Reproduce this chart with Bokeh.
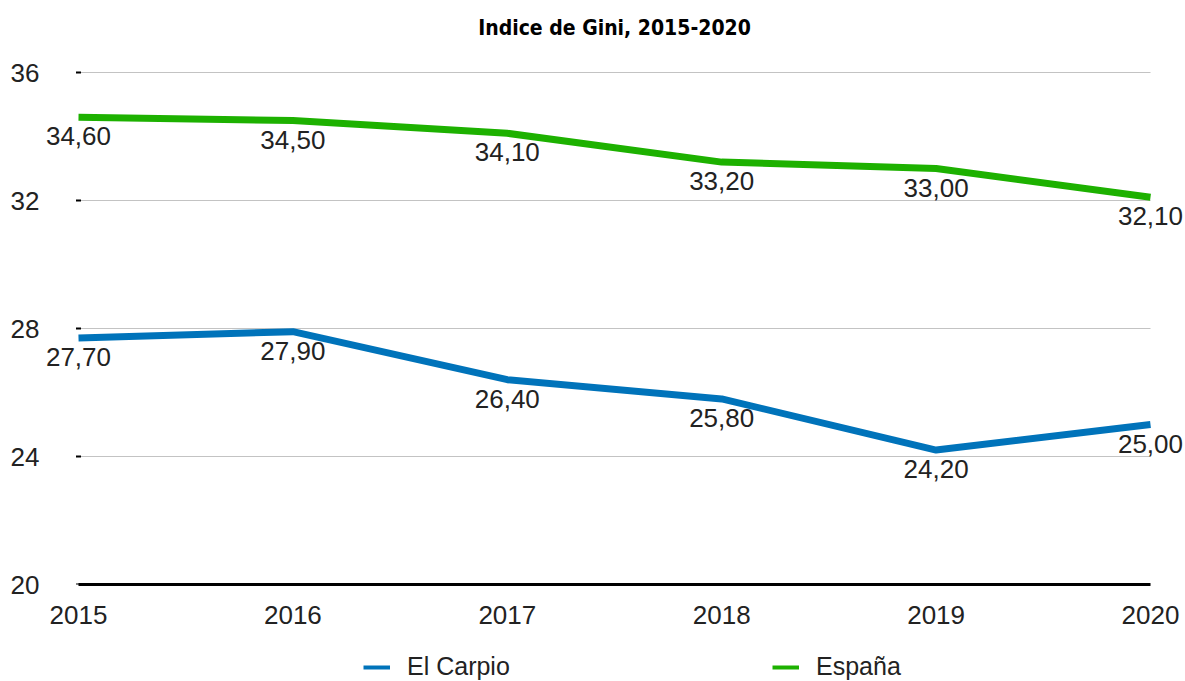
from bokeh.plotting import figure
from bokeh.layouts import column
from bokeh.models import (Range1d, FixedTicker, ColumnDataSource, LabelSet, Label,
                          Legend, LegendItem)
from bokeh.core.properties import value
from bokeh.embed import file_html
from bokeh.resources import INLINE

years = [2015, 2016, 2017, 2018, 2019, 2020]
el_carpio = [27.7, 27.9, 26.4, 25.8, 24.2, 25.0]
espana = [34.6, 34.5, 34.1, 33.2, 33.0, 32.1]
y_ticks = [20, 24, 28, 32, 36]
title_text = "Indice de Gini, 2015-2020"
series_names = ["El Carpio", "España"]

BLUE = "#0073BA"
GREEN = "#1DB100"
TXT = "#222222"
FONT = "Liberation Sans"
BOLD_FONT = "'Liberation Sans Narrow', 'DejaVu Sans Condensed', sans-serif"

# layout (pixels)
W, H = 1185, 681
LEG_H = 40
MAIN_H = H - LEG_H
frame_left, frame_right, frame_top, frame_bottom = 42, 1185, 0, 584
px_first, px_last = 78, 1150          # where the first / last year sit
py_top_tick, py_bottom_tick = 72, 584 # where the highest / lowest y tick sit
ppx = (px_last - px_first) / (years[-1] - years[0])
ppy = (py_bottom_tick - py_top_tick) / (y_ticks[-1] - y_ticks[0])
x_start = years[0] - (px_first - frame_left) / ppx
x_end = years[-1] + (frame_right - px_last) / ppx
y_start = y_ticks[0] - (frame_bottom - py_bottom_tick) / ppy
y_end = y_ticks[-1] + (py_top_tick - frame_top) / ppy

p = figure(width=W, height=MAIN_H, output_backend="svg", toolbar_location=None,
           title=None,
           x_range=Range1d(x_start, x_end), y_range=Range1d(y_start, y_end),
           min_border_left=frame_left, min_border_right=W - frame_right,
           min_border_top=frame_top, min_border_bottom=MAIN_H - frame_bottom)
p.outline_line_color = None
p.background_fill_color = "white"
p.border_fill_color = "white"

# title (inside the frame, in screen units)
p.add_layout(Label(x=614 - frame_left, y=frame_bottom - 27, x_units="screen",
                   y_units="screen", text=title_text, text_align="center",
                   text_baseline="alphabetic", text_font=BOLD_FONT,
                   text_font_style="bold", text_font_size="21px", text_color="black"))

# grid drawn only across the data span
p.xgrid.grid_line_color = None
p.ygrid.grid_line_color = None
p.segment(x0=[years[0]] * len(y_ticks), x1=[years[-1]] * len(y_ticks),
          y0=y_ticks, y1=y_ticks, line_color="#c3c3c3", line_width=1)
# small tick dashes at the first year
p.scatter(x=[years[0]] * len(y_ticks), y=y_ticks, marker="dash", size=5,
          line_color="black", line_width=2)

# axes
p.xaxis.ticker = FixedTicker(ticks=years)
p.xaxis.bounds = (years[0], years[-1])
p.xaxis.axis_line_color = "black"
p.xaxis.axis_line_width = 3
p.xaxis.major_tick_line_color = None
p.xaxis.minor_tick_line_color = None
p.xaxis.major_label_standoff = 15
p.xaxis.major_label_text_font = FONT
p.xaxis.major_label_text_font_size = "26px"
p.xaxis.major_label_text_color = TXT

p.yaxis.ticker = FixedTicker(ticks=y_ticks)
p.yaxis.axis_line_color = None
p.yaxis.major_tick_line_color = None
p.yaxis.minor_tick_line_color = None
p.yaxis.major_tick_out = 0
p.yaxis.major_tick_in = 0
p.yaxis.major_label_standoff = 3
p.yaxis.major_label_text_font = FONT
p.yaxis.major_label_text_font_size = "26px"
p.yaxis.major_label_text_color = TXT

# lines
p.line(years, espana, line_color=GREEN, line_width=7)
p.line(years, el_carpio, line_color=BLUE, line_width=7)

# data labels
for vals in (espana, el_carpio):
    src = ColumnDataSource(dict(x=years, y=vals,
                                t=[f"{v:.2f}".replace(".", ",") for v in vals]))
    p.add_layout(LabelSet(x="x", y="y", text="t", source=src, y_offset=-10,
                          text_align="center", text_baseline="top",
                          text_font=value(FONT), text_font_size="26px", text_color=TXT))

# legend strip underneath (its frame is aligned with the main frame)
q = figure(width=W, height=LEG_H, output_backend="svg", toolbar_location=None,
           x_range=Range1d(0, 1), y_range=Range1d(0, 1),
           x_axis_location=None, y_axis_location=None,
           min_border_left=0, min_border_right=0, min_border_top=0, min_border_bottom=0)
q.outline_line_color = None
q.xgrid.grid_line_color = None
q.ygrid.grid_line_color = None
nan = float("nan")
r_blue = q.line([nan], [nan], line_color=BLUE, line_width=4)
r_green = q.line([nan], [nan], line_color=GREEN, line_width=4)
leg = Legend(items=[LegendItem(label=series_names[0], renderers=[r_blue]),
                    LegendItem(label=series_names[1], renderers=[r_green])],
             location=(363 - frame_left, 0), orientation="horizontal",
             margin=0, padding=0, spacing=0,
             glyph_width=27, glyph_height=28, label_height=28, label_width=365,
             label_standoff=17,
             label_text_font=FONT, label_text_font_size="25px", label_text_color=TXT,
             border_line_color=None, background_fill_alpha=0)
q.add_layout(leg)

layout = column(p, q, spacing=0)
open("out.html", "w").write(file_html(layout, INLINE))
